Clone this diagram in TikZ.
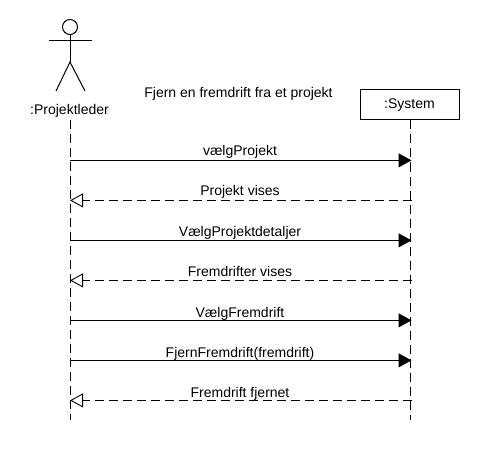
\documentclass[tikz,border=0pt]{standalone}
\usepackage{fontspec}
\setmainfont{Liberation Sans}
\usetikzlibrary{arrows.meta}
\tikzset{
  x=1pt,y=-1pt,
  stick/.style={draw=black,line width=1pt},
  lifeline/.style={draw=black,line width=0.9pt,dash pattern=on 9pt off 5pt},
  callmsg/.style={draw=black,line width=1pt,-{Triangle[length=13pt,width=14pt,fill=black]}},
  replymsg/.style={draw=black,line width=0.9pt,dash pattern=on 9pt off 5pt,-{Triangle[open,length=13pt,width=14pt,fill=white,line width=0.9pt,sep=0pt]}},
  lbl/.style={font=\fontsize{14}{16}\selectfont,inner sep=0pt,text=black,anchor=base},
  sysbox/.style={draw=black,line width=1pt,fill=white,minimum width=99pt,minimum height=30pt,inner sep=0pt,font=\fontsize{14}{16}\selectfont},
  headc/.style={circle,draw=black,line width=1pt,minimum size=15pt,inner sep=0pt}
}
\begin{document}
\begin{tikzpicture}
\useasboundingbox (0,0) rectangle (480,460);
\fill[white] (0,0) rectangle (480,460);
% actor
\node[headc] (head) at (70,27) {};
\coordinate (hip) at (70,62);
\coordinate (armL) at (49,41);
\coordinate (armR) at (92,41);
\coordinate (legL) at (56,91);
\coordinate (legR) at (85,91);
\draw[stick] (head.south) -- (hip);
\draw[stick] (armL) -- (armR);
\draw[stick] (legL) -- (hip) -- (legR);
\node[lbl] (actor) at (69.5,114.5) {:Projektleder};
\node[lbl] (title) at (238.5,98) {Fjern en fremdrift fra et projekt};
\node[sysbox] (system) at (409.5,105) {:System};
% lifeline ends
\coordinate (aTop) at (70,120);
\coordinate (aEnd) at (70,420);
\coordinate (sEnd) at (410,420);
\draw[lifeline] (aTop) -- (aEnd);
\draw[lifeline] (system.south -| sEnd) -- (sEnd);
% message anchors
\foreach \n/\y in {1/160.4,2/200.4,3/240.4,4/280.4,5/320.4,6/360.4,7/400.4}{
  \coordinate (a\n) at (70,\y);
  \coordinate (s\n) at (411.5,\y);
}
\draw[callmsg] (a1) -- (s1);
\draw[replymsg] (s2) -- (a2);
\draw[callmsg] (a3) -- (s3);
\draw[replymsg] (s4) -- (a4);
\draw[callmsg] (a5) -- (s5);
\draw[callmsg] (a6) -- (s6);
\draw[replymsg] (s7) -- (a7);
\node[lbl] (m1) at (240,156) {vælgProjekt};
\node[lbl] (m2) at (240,196) {Projekt vises};
\node[lbl] (m3) at (240,236) {VælgProjektdetaljer};
\node[lbl] (m4) at (240,276) {Fremdrifter vises};
\node[lbl] (m5) at (240,317) {VælgFremdrift};
\node[lbl] (m6) at (240,357) {FjernFremdrift(fremdrift)};
\node[lbl] (m7) at (240,397) {Fremdrift fjernet};
\end{tikzpicture}
\end{document}
